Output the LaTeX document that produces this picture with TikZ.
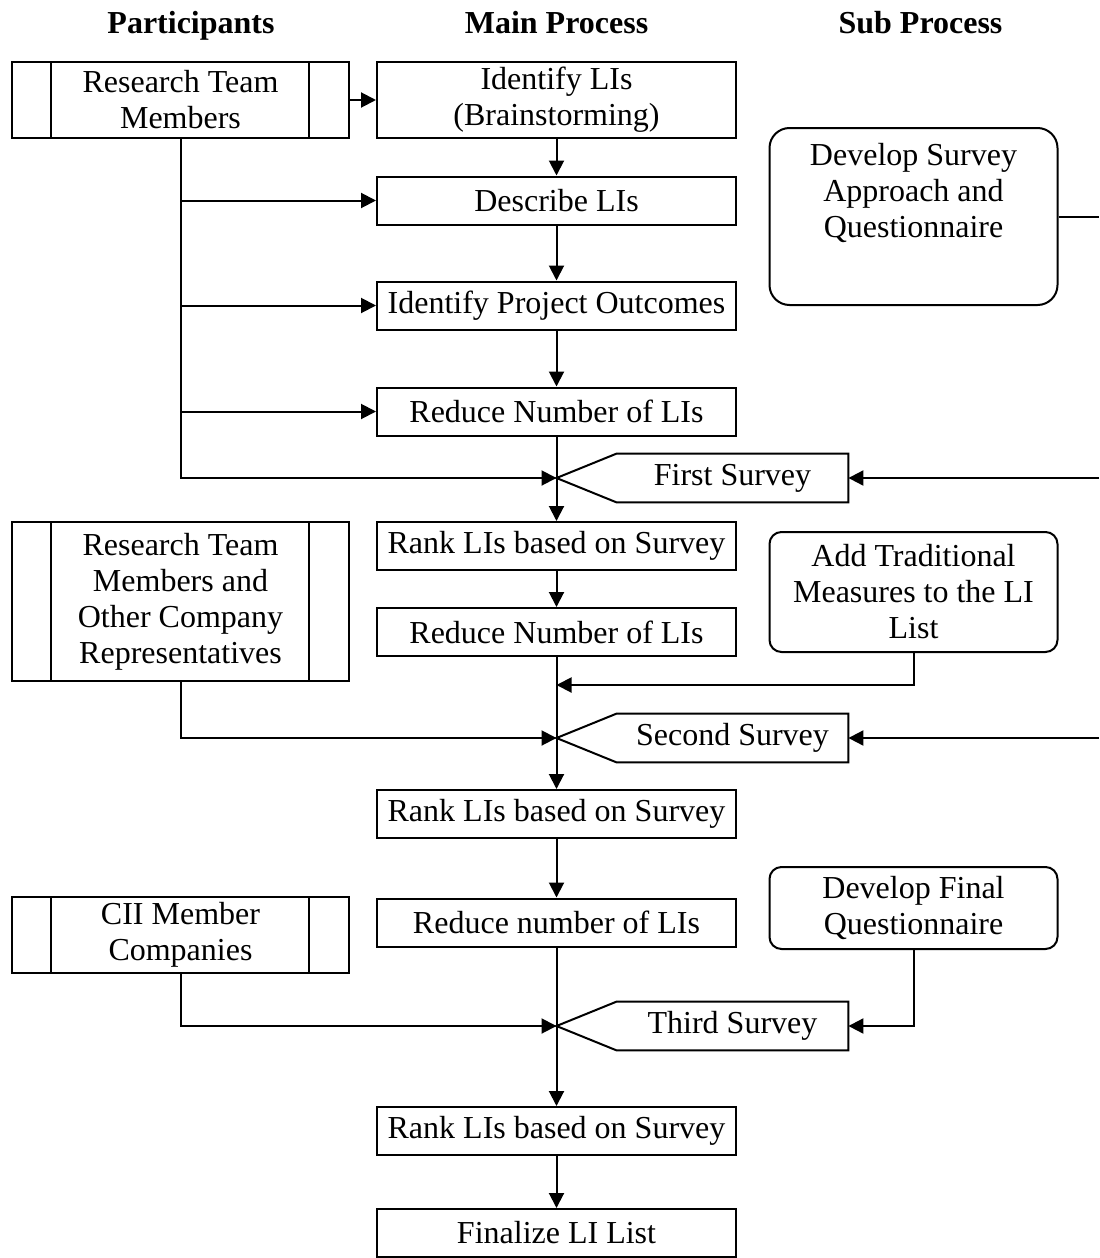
\documentclass[tikz,border=0pt]{standalone}
\usepackage{fontspec}
\setmainfont{Liberation Serif}
\usetikzlibrary{arrows.meta}

\begin{document}
\begin{tikzpicture}[x=5pt, y=-5pt,
		every node/.append style={font=\fontsize{16}{18}\selectfont},
		head/.style={font=\fontsize{16}{18}\selectfont\bfseries, anchor=base},
		mainbox/.style={draw, line width=1pt, minimum width=179.5pt, minimum height=24pt, inner sep=0pt, align=center},
		partbox/.style={draw, line width=1pt, minimum width=168.5pt, inner sep=0pt, align=center},
		subbox/.style={draw, line width=1pt, rounded corners=6pt, minimum width=144pt, inner sep=0pt, align=center},
		survey/.style={minimum width=115.5pt, minimum height=24pt, inner sep=0pt},
		link/.style={line width=1pt},
		flow/.style={line width=1pt, -{Triangle[length=7.5pt, width=7.5pt]}}]
		\useasboundingbox (0, 0) rectangle (109.9, 125.8);

		% column heads
		\node [head] (hpart) at (19.1, 3.3) {Participants};
		\node [head] (hmain) at (55.65, 3.3) {Main Process};
		\node [head] (hsub) at (92.05, 3.3) {Sub Process};

		% main process
		\node [mainbox, minimum height=38pt] (m1) at (55.65, 10.0) {Identify LIs\\(Brainstorming)};
		\node [mainbox] (m2) at (55.65, 20.05) {Describe LIs};
		\node [mainbox] (m3) at (55.65, 30.55) {Identify Project Outcomes};
		\node [mainbox] (m4) at (55.65, 41.15) {Reduce Number of LIs};
		\node [mainbox] (m5) at (55.65, 54.6) {Rank LIs based on Survey};
		\node [mainbox] (m6) at (55.65, 63.2) {Reduce Number of LIs};
		\node [mainbox] (m7) at (55.65, 81.4) {Rank LIs based on Survey};
		\node [mainbox] (m8) at (55.65, 92.25) {Reduce number of LIs};
		\node [mainbox] (m9) at (55.65, 113.1) {Rank LIs based on Survey};
		\node [mainbox] (m10) at (55.65, 123.3) {Finalize LI List};

		% participants
		\node [partbox, minimum height=38pt] (p1) at (18.05, 10.0) {Research Team\\Members};
		\node [partbox, minimum height=79.5pt] (p2) at (18.05, 60.15) {Research Team\\Members and\\Other Company\\Representatives};
		\node [partbox, minimum height=38pt] (p3) at (18.05, 93.5) {CII Member\\Companies};
		\foreach \p in {p1, p2, p3} {
			\draw [link] ([xshift=20pt]\p.north west) -- ([xshift=20pt]\p.south west);
			\draw [link] ([xshift=-20.5pt]\p.north east) -- ([xshift=-20.5pt]\p.south east);
		}

		% sub process
		\node [subbox, rounded corners=10pt, minimum height=88.5pt] (dsa) at (91.35, 21.65) {};
		\node [align=center] (dsatext) at (91.35, 19.3) {Develop Survey\\Approach and\\Questionnaire};
		\node [subbox, minimum height=60pt] (atm) at (91.35, 59.2) {Add Traditional\\Measures to the LI\\List};
		\node [subbox, minimum height=41pt] (dfq) at (91.35, 90.8) {Develop Final\\Questionnaire};

		% surveys
		\node [survey] (s1) at (73.25, 47.8) {First Survey};
		\node [survey] (s2) at (73.25, 73.8) {Second Survey};
		\node [survey] (s3) at (73.25, 102.6) {Third Survey};
		\coordinate (t1) at (m4.south |- s1.west);
		\coordinate (t2) at (m4.south |- s2.west);
		\coordinate (t3) at (m4.south |- s3.west);
		\draw [link] (s1.north west) -- (s1.north east) -- (s1.south east) -- (s1.south west) -- (t1) -- cycle;
		\draw [link] (s2.north west) -- (s2.north east) -- (s2.south east) -- (s2.south west) -- (t2) -- cycle;
		\draw [link] (s3.north west) -- (s3.north east) -- (s3.south east) -- (s3.south west) -- (t3) -- cycle;

		% main flow
		\draw [flow] (m1.south) -- (m2.north);
		\draw [flow] (m2.south) -- (m3.north);
		\draw [flow] (m3.south) -- (m4.north);
		\draw [flow] (m4.south) -- (m5.north);
		\draw [flow] (m5.south) -- (m6.north);
		\draw [flow] (m6.south) -- (m7.north);
		\draw [flow] (m7.south) -- (m8.north);
		\draw [flow] (m8.south) -- (m9.north);
		\draw [flow] (m9.south) -- (m10.north);

		% participant links
		\draw [flow] (p1.east) -- (m1.west);
		\foreach \m in {m2, m3, m4}
			\draw [flow] (p1.south |- \m.west) -- (\m.west);
		\draw [flow] (p1.south) |- (t1);
		\draw [flow] (p2.south) |- (t2);
		\draw [flow] (p3.south) |- (t3);

		% sub process links
		\coordinate (dsaout) at (109.9, 21.65);
		\coordinate (in1) at (109.9, 47.8);
		\coordinate (in2) at (109.9, 73.8);
		\coordinate (j1) at (55.65, 68.5);
		\draw [link] (dsa.east) -- (dsaout);
		\draw [flow] (in1) -- (s1.east);
		\draw [flow] (in2) -- (s2.east);
		\draw [flow] (atm.south) |- (j1);
		\draw [flow] (dfq.south) |- (s3.east);
	\end{tikzpicture}
\end{document}
